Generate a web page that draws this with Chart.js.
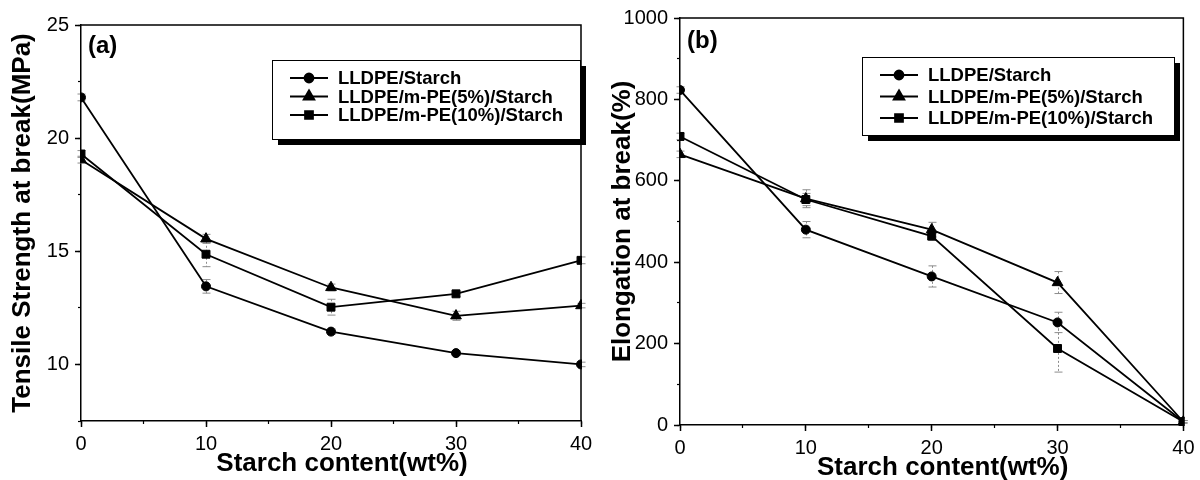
<!DOCTYPE html>
<html>
<head>
<meta charset="utf-8">
<title>Tensile properties vs starch content</title>
<script src="https://cdn.jsdelivr.net/npm/chart.js@4.4.1/dist/chart.umd.min.js"></script>
<style>
    html, body { margin: 0; padding: 0; background: #fff; }
    .panel { position: absolute; top: 0; width: 600px; height: 480px; }
    #panelA { left: 0; }
    #panelB { left: 600px; }
</style>
</head>
<body>
<div class="panel" id="panelA"><canvas id="tensileChart" width="600" height="480"></canvas></div>
<div class="panel" id="panelB"><canvas id="elongationChart" width="600" height="480"></canvas></div>
<script>
const starchContent = [0, 10, 20, 30, 40];
const seriesNames = ['LLDPE/Starch', 'LLDPE/m-PE(5%)/Starch', 'LLDPE/m-PE(10%)/Starch'];
const xTitle = 'Starch content(wt%)';

// (a) tensile strength at break, MPa
const tensileLLDPE = [21.8, 13.45, 11.45, 10.5, 10.0];
const tensilePE5 = [19.05, 15.55, 13.4, 12.15, 12.6];
const tensilePE10 = [19.3, 14.87, 12.53, 13.12, 14.6];
const tensileErrLLDPE = [0.15, 0.3, 0.12, 0.1, 0.1];
const tensileErrPE5 = [0.15, 0.2, 0.15, 0.2, 0.1];
const tensileErrPE10 = [0.15, 0.55, 0.35, 0.12, 0.15];

// (b) elongation at break, %
const elongLLDPE = [823, 480, 365, 252, 8];
const elongPE5 = [665, 556, 480, 350, 8];
const elongPE10 = [709, 554, 464, 188, 8];
const elongErrLLDPE = [8, 20, 26, 25, 3];
const elongErrPE5 = [8, 22, 18, 27, 3];
const elongErrPE10 = [8, 15, 10, 58, 3];

// tick values
const xMajorStep = 10, xMinorStep = 5;
const tensileTicks = { min: 7.5, max: 25, step: 5, minor: 2.5 };
const elongTicks = { min: 0, max: 1000, step: 200, minor: 100 };

const fontFamily = "'Liberation Sans', Arial, Helvetica, sans-serif";
const markerStyles = ['circle', 'triangle', 'rect'];
const markerRadius = [4.5, 6.2, 5.6];

function makeDatasets(seriesValues) {
    return seriesValues.map((values, i) => ({
        label: seriesNames[i],
        data: values.map((v, j) => ({ x: starchContent[j], y: v })),
        xAxisID: 'x',
        yAxisID: 'y',
        borderColor: '#000',
        backgroundColor: '#000',
        borderWidth: 1.8,
        pointStyle: markerStyles[i],
        pointRadius: markerRadius[i],
        pointBorderWidth: 1,
        tension: 0,
        clip: 1
    }));
}

// dotted grey error bars with short caps
const errorBars = {
    id: 'errorBars',
    beforeDatasetsDraw(chart, args, opts) {
        const { ctx, scales: { x, y } } = chart;
        ctx.save();
        ctx.strokeStyle = '#8c8c8c';
        ctx.lineWidth = 1;
        chart.data.datasets.forEach((ds, i) => {
            const errs = opts.errors[i];
            ds.data.forEach((pt, j) => {
                const px = Math.round(x.getPixelForValue(pt.x)) + 0.5;
                const top = y.getPixelForValue(pt.y + errs[j]);
                const bottom = y.getPixelForValue(pt.y - errs[j]);
                ctx.setLineDash([2, 2]);
                ctx.beginPath();
                ctx.moveTo(px, top);
                ctx.lineTo(px, bottom);
                ctx.stroke();
                ctx.setLineDash([]);
                ctx.beginPath();
                ctx.moveTo(px - 4, top);
                ctx.lineTo(px + 4, top);
                ctx.moveTo(px - 4, bottom);
                ctx.lineTo(px + 4, bottom);
                ctx.stroke();
            });
        });
        ctx.restore();
    }
};

// closes the plot box, x title, panel tag and the boxed legend with shadow
const panelDecor = {
    id: 'panelDecor',
    afterDraw(chart, args, opts) {
        const { ctx, chartArea: a } = chart;
        ctx.save();
        ctx.strokeStyle = '#000';
        ctx.lineWidth = 1.5;
        ctx.beginPath();
        ctx.moveTo(a.left, a.top);
        ctx.lineTo(a.right, a.top);
        ctx.lineTo(a.right, a.bottom);
        ctx.stroke();

        ctx.fillStyle = '#000';
        ctx.font = 'bold 26px ' + fontFamily;
        ctx.textAlign = 'center';
        ctx.textBaseline = 'alphabetic';
        ctx.fillText(xTitle, (a.left + a.right) / 2 + 11, a.bottom + 50);

        ctx.font = 'bold 24px ' + fontFamily;
        ctx.textBaseline = 'middle';
        ctx.textAlign = 'left';
        ctx.fillText(opts.tag, opts.tagX, opts.tagY);

        const b = opts.legend;
        ctx.fillRect(b.x + 6, b.y + 6, b.w, b.h);
        ctx.fillStyle = '#fff';
        ctx.fillRect(b.x, b.y, b.w, b.h);
        ctx.lineWidth = 1;
        ctx.strokeRect(b.x + 0.5, b.y + 0.5, b.w, b.h);

        ctx.font = 'bold 18.5px ' + fontFamily;
        chart.data.datasets.forEach((ds, i) => {
            const ry = b.y + b.first + i * b.gap;
            ctx.strokeStyle = '#000';
            ctx.fillStyle = '#000';
            ctx.lineWidth = 1.8;
            ctx.beginPath();
            ctx.moveTo(b.x + 18, ry);
            ctx.lineTo(b.x + 56, ry);
            ctx.stroke();
            Chart.helpers.drawPoint(ctx, {
                pointStyle: ds.pointStyle,
                radius: ds.pointRadius,
                rotation: 0,
                borderWidth: 1
            }, b.x + 37, ry);
            ctx.fillText(ds.label, b.x + 66, ry + 1);
        });
        ctx.restore();
    }
};

function buildScales(range, yTitle, yWidth, xHeight) {
    const tickFont = { family: fontFamily, size: 20 };
    const titleFont = { family: fontFamily, size: 26, weight: 'bold', lineHeight: 1.2 };
    const plain = v => String(v);
    return {
        x: {
            type: 'linear', position: 'bottom', weight: 1,
            min: starchContent[0], max: starchContent[starchContent.length - 1],
            ticks: { stepSize: xMajorStep, font: tickFont, color: '#000', padding: 5.5, callback: plain },
            grid: { drawOnChartArea: false, tickLength: 6, tickColor: '#000', tickWidth: 1.5 },
            border: { color: '#000', width: 1.5 },
            afterFit: s => { s.height = xHeight; }
        },
        xMinor: {
            type: 'linear', position: 'bottom', weight: 0,
            min: starchContent[0], max: starchContent[starchContent.length - 1],
            ticks: { stepSize: xMinorStep, display: false },
            grid: { drawOnChartArea: false, tickLength: 3, tickColor: '#000', tickWidth: 1.2 },
            border: { display: false },
            afterFit: s => { s.height = 0; }
        },
        y: {
            type: 'linear', position: 'left', weight: 1,
            min: range.min, max: range.max,
            ticks: { stepSize: range.step, includeBounds: false, font: tickFont, color: '#000', padding: 6, callback: plain },
            grid: { drawOnChartArea: false, tickLength: 6, tickColor: '#000', tickWidth: 1.5 },
            border: { color: '#000', width: 1.5 },
            title: { display: true, text: yTitle, font: titleFont, color: '#000', padding: { top: 7, bottom: 0 } },
            afterFit: s => { s.width = yWidth; }
        },
        yMinor: {
            type: 'linear', position: 'left', weight: 0,
            min: range.min, max: range.max,
            ticks: { stepSize: range.minor, display: false },
            grid: { drawOnChartArea: false, tickLength: 3, tickColor: '#000', tickWidth: 1.2 },
            border: { display: false },
            afterFit: s => { s.width = 0; }
        }
    };
}

function makeChart(canvasId, seriesValues, errors, range, yTitle, layout) {
    return new Chart(document.getElementById(canvasId), {
        type: 'line',
        data: { datasets: makeDatasets(seriesValues) },
        options: {
            responsive: false,
            animation: false,
            devicePixelRatio: 1,
            layout: { padding: layout.padding },
            scales: buildScales(range, yTitle, layout.yWidth, layout.xHeight),
            plugins: {
                legend: { display: false },
                tooltip: { enabled: false },
                errorBars: { errors },
                panelDecor: layout.decor
            }
        },
        plugins: [errorBars, panelDecor]
    });
}

makeChart('tensileChart',
    [tensileLLDPE, tensilePE5, tensilePE10],
    [tensileErrLLDPE, tensileErrPE5, tensileErrPE10],
    tensileTicks, 'Tensile Strength at break(MPa)', {
        padding: { top: 25, right: 19, bottom: 0, left: 0 },
        yWidth: 81, xHeight: 59,
        decor: { tag: '(a)', tagX: 88, tagY: 46, legend: { x: 272, y: 60, w: 308, h: 79, first: 18, gap: 18.5 } }
    });

makeChart('elongationChart',
    [elongLLDPE, elongPE5, elongPE10],
    [elongErrLLDPE, elongErrPE5, elongErrPE10],
    elongTicks, 'Elongation at break(%)', {
        padding: { top: 18, right: 10, bottom: 0, left: 0 },
        yWidth: 80, xHeight: 55,
        decor: { tag: '(b)', tagX: 87, tagY: 41, legend: { x: 262, y: 57, w: 312, h: 78, first: 18, gap: 21.5 } }
    });
</script>
</body>
</html>
